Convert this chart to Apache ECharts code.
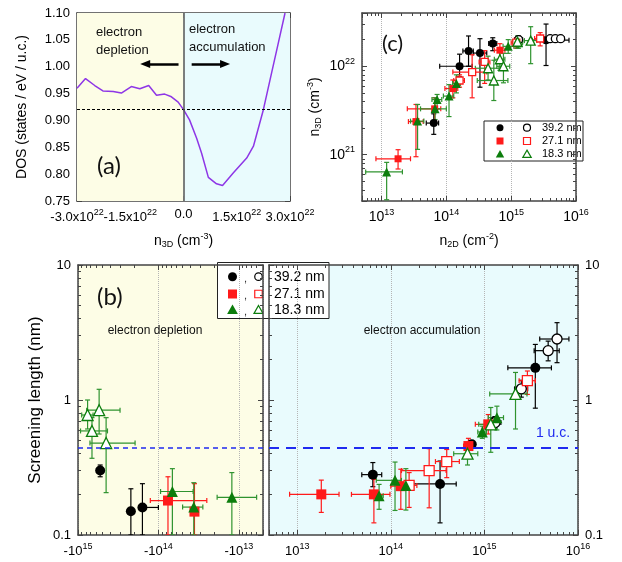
<!DOCTYPE html>
<html>
<head>
<meta charset="utf-8">
<script src="https://cdn.jsdelivr.net/npm/echarts@6.0.0/dist/echarts.min.js"></script>
<style>
html, body { margin: 0; padding: 0; background: #fff; }
#main { width: 622px; height: 562px; }
</style>
</head>
<body>
<div id="main"></div>
<script>
// ---- data ----
// (a) DOS versus n3D
var dosN = [-3.0e22, -2.76e22, -2.5e22, -2.27e22, -1.98e22, -1.75e22, -1.47e22, -1.23e22, -0.98e22, -0.76e22, -0.53e22, -0.34e22, -0.15e22, 0,
            0.17e22, 0.37e22, 0.51e22, 0.70e22, 0.93e22, 1.10e22, 1.40e22, 1.78e22, 1.97e22, 2.25e22, 2.48e22, 2.67e22, 2.86e22];
var dosVal = [0.960, 0.978, 0.965, 0.955, 0.954, 0.951, 0.963, 0.959, 0.965, 0.947, 0.949, 0.944, 0.934, 0.920,
              0.901, 0.867, 0.839, 0.794, 0.782, 0.779, 0.802, 0.830, 0.852, 0.920, 0.988, 1.044, 1.10];
var dosRef = 0.92;

// (c) rows: [n2D, n3D, n2D low, n2D high, n3D low, n3D high]
var cBlack = [[6.4e13, 2.28e21, 4.9e13, 7.6e13, 1.7e21, 2.9e21], [1.6e14, 1.0e22, 7.9e13, 2.5e14, 7.6e21, 1.37e22],
              [2.2e14, 1.49e22, 1.8e14, 2.6e14, 1.0e22, 2.2e22], [3.3e14, 1.41e22, 2.6e14, 4.2e14, 5.8e21, 2.05e22],
              [5.2e14, 1.81e22, 4.5e14, 6.0e14, 1.5e22, 2.1e22], [3.45e15, 1.97e22, 2.1e15, 7.8e15, 1.02e22, 3.0e22]];
var cBlackOpen = [[1.3e15, 2.0e22, 1.15e15, 1.5e15, 1.85e22, 2.2e22], [4.0e15, 2.05e22, 3.6e15, 4.4e15, 1.95e22, 2.15e22],
                  [4.8e15, 2.05e22, 4.3e15, 5.3e15, 1.95e22, 2.15e22], [5.8e15, 2.05e22, 5.2e15, 6.6e15, 1.95e22, 2.15e22]];
var cRed = [[1.8e13, 9.0e20, 8.2e12, 2.8e13, 6.9e20, 1.14e21], [3.4e13, 2.37e21, 2.6e13, 4.4e13, 9.5e20, 3.7e21],
            [6.6e13, 3.3e21, 2.5e13, 8.2e13, 2.4e21, 4.4e21], [1.26e14, 5.6e21, 9.5e13, 1.5e14, 4.4e21, 7.0e21],
            [6.7e14, 1.52e22, 5.5e14, 8.0e14, 1.2e22, 1.8e22]];
var cRedOpen = [[1.6e14, 6.9e21, 1.3e14, 1.9e14, 5.8e21, 8.0e21], [2.5e14, 8.6e21, 1.26e14, 4.2e14, 4.4e21, 1.35e22],
                [3.9e14, 1.12e22, 3.2e14, 4.7e14, 6.4e21, 1.5e22], [1.2e15, 1.85e22, 1.0e15, 1.4e15, 1.6e22, 2.1e22],
                [2.8e15, 2.06e22, 2.3e15, 3.3e15, 1.7e22, 2.4e22]];
var cGreen = [[1.2e13, 6.4e20, 5.7e12, 2.1e13, 3.1e20, 8.2e20], [3.6e13, 2.4e21, 2.8e13, 4.5e13, 1.15e21, 3.7e21],
              [6.7e13, 3.3e21, 4.0e13, 1.0e14, 2.5e21, 4.4e21], [7.2e13, 4.2e21, 6.0e13, 8.5e13, 3.3e21, 4.8e21],
              [1.1e14, 4.6e21, 9.0e13, 1.3e14, 2.7e21, 6.2e21], [1.43e14, 6.4e21, 1.25e14, 1.65e14, 5.0e21, 8.0e21],
              [9.0e14, 1.68e22, 7.5e14, 1.1e15, 1.4e22, 2.0e22], [1.3e15, 1.85e22, 1.1e15, 1.5e15, 1.6e22, 2.1e22]];
var cGreenOpen = [[4.4e14, 9.5e21, 2.8e14, 6.5e14, 7.0e21, 1.3e22], [5.4e14, 6.9e21, 3.0e14, 8.9e14, 4.1e21, 1.17e22],
                  [6.7e14, 1.2e22, 5.5e14, 8.0e14, 9.0e21, 1.6e22], [7.6e14, 1.0e22, 6.0e14, 9.5e14, 6.5e21, 1.4e22],
                  [1.25e15, 1.9e22, 1.05e15, 1.5e15, 1.6e22, 2.2e22], [2.0e15, 1.95e22, 1.6e15, 2.5e15, 1.07e22, 2.8e22]];

// (b) depletion side, x is |n2D|: [|n2D|, length, low, high, length low, length high]
var depBlack = [[5.3e14, 0.30, 4.9e14, 5.7e14, 0.27, 0.33], [2.2e14, 0.15, 2.2e14, 2.2e14, 0.10, 0.22],
                [1.58e14, 0.16, 1.0e14, 1.58e14, 0.10, 0.24]];
var depRed = [[7.6e13, 0.18, 2.5e13, 1.26e14, 0.10, 0.27], [3.56e13, 0.149, 3.56e13, 3.56e13, 0.10, 0.24]];
var depGreen = [[6.7e13, 0.21, 3.7e13, 9.4e13, 0.10, 0.31], [3.63e13, 0.161, 2.8e13, 5.0e13, 0.10, 0.244],
                [1.22e13, 0.19, 6.0e12, 1.86e13, 0.10, 0.29]];
var depGreenOpen = [[7.6e14, 0.774, 6.5e14, 9.0e14, 0.61, 1.0], [5.46e14, 0.84, 3.0e14, 7.8e14, 0.56, 1.2],
                    [6.7e14, 0.59, 4.3e14, 9.3e14, 0.37, 0.74], [4.47e14, 0.48, 1.95e14, 7.1e14, 0.206, 0.74]];
// (b) accumulation side
var accBlack = [[6.43e13, 0.28, 4.9e13, 8.0e13, 0.228, 0.344], [3.36e14, 0.239, 1.64e14, 5.0e14, 0.123, 0.353],
                [7.33e14, 0.47, 7.33e14, 7.33e14, 0.44, 0.50], [1.3e15, 0.70, 1.3e15, 1.3e15, 0.65, 0.75],
                [3.5e15, 1.73, 1.78e15, 5.2e15, 0.87, 2.58]];
var accBlackOpen = [[1.3e15, 0.68, 1.15e15, 1.5e15, 0.62, 0.75], [2.48e15, 1.21, 2.1e15, 2.9e15, 1.05, 1.4],
                    [4.8e15, 2.32, 3.4e15, 6.3e15, 1.95, 2.73], [5.97e15, 2.83, 3.9e15, 8.0e15, 1.89, 3.74]];
var accRed = [[1.81e13, 0.20, 8.3e12, 2.8e13, 0.147, 0.255], [6.6e13, 0.20, 3.8e13, 9.8e13, 0.123, 0.258],
              [1.28e14, 0.23, 1.0e14, 1.6e14, 0.155, 0.307], [6.75e14, 0.456, 6.0e14, 7.6e14, 0.40, 0.52],
              [1.1e15, 0.66, 8.0e14, 1.35e15, 0.56, 0.78]];
var accRedOpen = [[1.57e14, 0.233, 1.2e14, 1.9e14, 0.16, 0.29], [2.57e14, 0.30, 1.3e14, 3.9e14, 0.159, 0.436],
                  [3.96e14, 0.35, 3.0e14, 5.4e14, 0.266, 0.43], [2.88e15, 1.39, 2.35e15, 3.5e15, 1.1, 1.64]];
var accGreen = [[7.5e13, 0.195, 6.8e13, 8.3e13, 0.155, 0.237], [1.11e14, 0.254, 7.0e13, 1.3e14, 0.152, 0.347],
                [1.45e14, 0.233, 1.2e14, 1.75e14, 0.153, 0.31], [9.5e14, 0.58, 8.5e14, 1.05e15, 0.52, 0.64],
                [1.36e15, 0.74, 1.1e15, 1.6e15, 0.6, 0.9]];
var accGreenOpen = [[6.6e14, 0.40, 4.7e14, 8.5e14, 0.33, 0.46], [1.17e15, 0.66, 8.7e14, 1.4e15, 0.41, 0.88],
                    [2.15e15, 1.11, 1.14e15, 2.85e15, 0.61, 1.6]];
var ucLength = 0.44;
var thickness = ['39.2 nm', '27.1 nm', '18.3 nm'];

// ---- style ----
var font = 'Liberation Sans, Arial, sans-serif';
var frame = '#444';
var purple = '#8e36e6';
var red = '#ff1a1a';
var green = '#0c7d0c';
var greenBar = '#2f932f';
var yellowBg = '#fdfde6';
var cyanBg = '#e9fbfd';
var rich = {
    e: { fontSize: 9, fontFamily: font, padding: [0, 0, 10, 0] },
    s: { fontSize: 9, fontFamily: font, padding: [6, 0, 0, 0] }
};

function decadeLabel(neg) {
    return function (v) {
        var l = Math.log10(v), e = Math.round(l);
        if (Math.abs(l - e) > 1e-6) return '';
        return (neg ? '-' : '') + '10{e|' + e + '}';
    };
}
function plainDecade(v) {
    var l = Math.log10(v), e = Math.round(l);
    if (Math.abs(l - e) > 1e-6) return '';
    return e < 0 ? '0.1' : String(Math.pow(10, e));
}

// one side of a panel frame
function side(o) {
    return {
        gridIndex: o.grid, type: o.type || 'value', position: o.pos,
        min: o.min, max: o.max, interval: o.interval, inverse: !!o.inverse, logBase: 10,
        name: o.name || '', nameLocation: 'middle', nameGap: o.nameGap, nameRotate: o.nameRotate,
        nameTextStyle: { fontSize: o.nameSize || 14, fontFamily: font, color: '#000', rich: rich },
        axisLine: { show: true, onZero: false, lineStyle: { color: frame, width: 1.5 } },
        axisTick: { show: true, inside: true, length: 5, lineStyle: { color: frame } },
        minorTick: { show: true, splitNumber: o.minor || 2, length: 3, lineStyle: { color: frame } },
        axisLabel: { show: !!o.fmt, formatter: o.fmt, fontSize: o.labelSize || 13, fontFamily: font, color: '#000',
                     margin: 7, rich: rich, showMinLabel: true, showMaxLabel: true, hideOverlap: false },
        splitLine: { show: !!o.split, lineStyle: { color: '#b5b5b5', type: 'dotted', width: 1 } }
    };
}

function bars(rows, xi, yi, color) {
    return {
        type: 'custom', xAxisIndex: xi, yAxisIndex: yi, data: rows, clip: true, silent: true, z: 2,
        encode: { x: 0, y: 1 },
        renderItem: function (params, api) {
            var p = api.coord([api.value(0), api.value(1)]);
            var x1 = api.coord([api.value(2), api.value(1)])[0];
            var x2 = api.coord([api.value(3), api.value(1)])[0];
            var y1 = api.coord([api.value(0), api.value(4)])[1];
            var y2 = api.coord([api.value(0), api.value(5)])[1];
            var st = { stroke: color, lineWidth: 1.2 }, k = 2.5, kids = [];
            function seg(a, b, c, d) { kids.push({ type: 'line', shape: { x1: a, y1: b, x2: c, y2: d }, style: st }); }
            if (Math.abs(x2 - x1) > 1) { seg(x1, p[1], x2, p[1]); seg(x1, p[1] - k, x1, p[1] + k); seg(x2, p[1] - k, x2, p[1] + k); }
            if (Math.abs(y2 - y1) > 1) { seg(p[0], y1, p[0], y2); seg(p[0] - k, y1, p[0] + k, y1); seg(p[0] - k, y2, p[0] + k, y2); }
            return { type: 'group', children: kids };
        }
    };
}
function marks(rows, xi, yi, sym, size, color, open) {
    return {
        type: 'scatter', xAxisIndex: xi, yAxisIndex: yi, data: rows, encode: { x: 0, y: 1 },
        symbol: sym, symbolSize: size, silent: true, z: 3,
        itemStyle: open ? { color: '#fff', borderColor: color, borderWidth: 1.3, opacity: 1 } : { color: color, opacity: 1 }
    };
}
function group(sets, xi, yi, sz) {
    // sets: [rows, symbol, color, barColor, open]
    var out = [];
    sets.forEach(function (s) { out.push(bars(s[0], xi, yi, s[3])); });
    sets.forEach(function (s) { out.push(marks(s[0], xi, yi, s[1], sz[s[1]], s[2], s[4])); });
    return out;
}

var myChart = echarts.init(document.getElementById('main'));

var series = [];
// (a)
series.push({
    type: 'line', xAxisIndex: 0, yAxisIndex: 0, silent: true, z: 3,
    data: dosN.map(function (n, i) { return [n, dosVal[i]]; }),
    showSymbol: false, lineStyle: { color: purple, width: 1.5 },
    markArea: {
        silent: true,
        data: [[{ xAxis: -3e22, itemStyle: { color: yellowBg } }, { xAxis: 0 }],
               [{ xAxis: 0, itemStyle: { color: cyanBg } }, { xAxis: 3e22 }]]
    },
    markLine: {
        silent: true, symbol: ['none', 'none'], label: { show: false }, animation: false,
        data: [
            { yAxis: dosRef, lineStyle: { color: '#000', type: [3, 2], width: 1 } },
            { xAxis: 0, lineStyle: { color: '#555', type: 'solid', width: 1.5 } },
            [{ coord: [-0.14e22, 1.005], symbol: 'none', lineStyle: { color: '#000', type: 'solid', width: 2.5 } },
             { coord: [-1.08e22, 1.005], symbol: 'triangle', symbolSize: [8, 10] }],
            [{ coord: [0.23e22, 1.005], symbol: 'none', lineStyle: { color: '#000', type: 'solid', width: 2.5 } },
             { coord: [1.17e22, 1.005], symbol: 'triangle', symbolSize: [8, 10] }]
        ]
    }
});

// (c)
var szC = { circle: 8, rect: 7, triangle: 9 };
series = series.concat(group([
    [cBlack, 'circle', '#000', '#000', false],
    [cBlackOpen, 'circle', '#000', '#000', true],
    [cRed, 'rect', red, red, false],
    [cRedOpen, 'rect', red, red, true],
    [cGreen, 'triangle', green, greenBar, false],
    [cGreenOpen, 'triangle', green, greenBar, true]
], 2, 2, szC));

// (b) depletion
var szB = { circle: 10, rect: 10, triangle: 11 };
var dep = group([
    [depBlack, 'circle', '#000', '#000', false],
    [depRed, 'rect', red, red, false],
    [depGreen, 'triangle', green, greenBar, false],
    [depGreenOpen, 'triangle', green, greenBar, true]
], 4, 4, szB);
dep[0].markLine = { silent: true, symbol: ['none', 'none'], label: { show: false }, animation: false,
    data: [{ yAxis: ucLength, lineStyle: { color: '#1f2af0', type: [5, 4], width: 1.5 } }] };
series = series.concat(dep);

// (b) accumulation
var acc = group([
    [accBlack, 'circle', '#000', '#000', false],
    [accBlackOpen, 'circle', '#000', '#000', true],
    [accRed, 'rect', red, red, false],
    [accRedOpen, 'rect', red, red, true],
    [accGreen, 'triangle', green, greenBar, false],
    [accGreenOpen, 'triangle', green, greenBar, true]
], 6, 7, szB);
acc[0].markLine = { silent: true, symbol: ['none', 'none'], label: { show: false }, animation: false,
    data: [{ yAxis: ucLength, lineStyle: { color: '#1f2af0', type: [10, 7], width: 2 } }] };
series = series.concat(acc);

function aLabel(v) {
    if (Math.abs(v) < 1) return '0.0';
    return (v < 0 ? '-' : '') + (Math.abs(v) / 1e22).toFixed(1) + 'x10{e|22}';
}

// legend box drawn as graphic
function legendBox(box, rows, szFill, szOpen, fs, xs, withComma) {
    var kids = [{ type: 'rect', shape: { x: box[0], y: box[1], width: box[2], height: box[3] }, style: { fill: '#fff', stroke: '#222', lineWidth: 1 } }];
    var cols = ['#000', red, green];
    thickness.forEach(function (t, i) {
        var cy = rows[i];
        [0, 1].forEach(function (k) {
            var cx = xs[k], sz = k ? szOpen : szFill;
            var st = { fill: k ? '#fff' : cols[i], stroke: cols[i], lineWidth: k ? 1.2 : 0 };
            if (i === 0) kids.push({ type: 'circle', shape: { cx: cx, cy: cy, r: sz / 2 }, style: st });
            if (i === 1) kids.push({ type: 'rect', shape: { x: cx - sz / 2, y: cy - sz / 2, width: sz, height: sz }, style: st });
            if (i === 2) kids.push({ type: 'polygon', shape: { points: [[cx, cy - sz * 0.6], [cx + sz * 0.6, cy + sz * 0.45], [cx - sz * 0.6, cy + sz * 0.45]] }, style: st });
        });
        if (withComma) kids.push({ type: 'text', style: { text: ',', x: (xs[0] + xs[1]) / 2, y: cy + 2, font: '11px ' + font, fill: '#333', textAlign: 'center', textVerticalAlign: 'middle' } });
        kids.push({ type: 'text', style: { text: t, x: xs[2], y: cy, font: fs + 'px ' + font, fill: '#000', textVerticalAlign: 'middle' } });
    });
    return { type: 'group', z: 100, children: kids };
}
function txt(s, x, y, size, opt) {
    opt = opt || {};
    return { type: 'text', z: 50, style: { text: s, x: x, y: y, font: size + 'px ' + (opt.family || font), fill: opt.color || '#111',
        textAlign: opt.align || 'left', textVerticalAlign: 'middle', lineHeight: opt.lh } };
}

var option = {
    backgroundColor: '#fff',
    animation: false,
    grid: [
        { left: 77, top: 13, width: 213, height: 188, outerBoundsMode: 'none', containLabel: false },
        { left: 362, top: 13, width: 214, height: 188, outerBoundsMode: 'none', containLabel: false },
        { left: 78, top: 265, width: 185, height: 270, outerBoundsMode: 'none', containLabel: false, show: true, backgroundColor: yellowBg, borderWidth: 0 },
        { left: 269, top: 265, width: 309, height: 270, outerBoundsMode: 'none', containLabel: false, show: true, backgroundColor: cyanBg, borderWidth: 0 }
    ],
    xAxis: [
        side({ grid: 0, pos: 'bottom', min: -3e22, max: 3e22, interval: 1.5e22, fmt: aLabel, name: 'n{s|3D} (cm{e|-3})', nameGap: 31 }),
        side({ grid: 0, pos: 'top', min: -3e22, max: 3e22, interval: 1.5e22 }),
        side({ grid: 1, pos: 'bottom', type: 'log', min: 5e12, max: 1e16, minor: 9, split: true, fmt: decadeLabel(false), labelSize: 14,
               name: 'n{s|2D} (cm{e|-2})', nameGap: 31 }),
        side({ grid: 1, pos: 'top', type: 'log', min: 5e12, max: 1e16, minor: 9 }),
        side({ grid: 2, pos: 'bottom', type: 'log', min: 5e12, max: 1e15, inverse: true, minor: 9, split: true, fmt: decadeLabel(true) }),
        side({ grid: 2, pos: 'top', type: 'log', min: 5e12, max: 1e15, inverse: true, minor: 9 }),
        side({ grid: 3, pos: 'bottom', type: 'log', min: 5e12, max: 1e16, minor: 9, split: true, fmt: decadeLabel(false) }),
        side({ grid: 3, pos: 'top', type: 'log', min: 5e12, max: 1e16, minor: 9 })
    ],
    yAxis: [
        side({ grid: 0, pos: 'left', min: 0.75, max: 1.10, interval: 0.05, fmt: function (v) { return v.toFixed(2); },
               name: 'DOS (states / eV / u.c.)', nameGap: 48, nameRotate: 90 }),
        side({ grid: 0, pos: 'right', min: 0.75, max: 1.10, interval: 0.05 }),
        side({ grid: 1, pos: 'left', type: 'log', min: 3e20, max: 4e22, minor: 9, fmt: decadeLabel(false), labelSize: 14,
               name: 'n{s|3D} (cm{e|-3})', nameGap: 37, nameRotate: 90 }),
        side({ grid: 1, pos: 'right', type: 'log', min: 3e20, max: 4e22, minor: 9 }),
        side({ grid: 2, pos: 'left', type: 'log', min: 0.1, max: 10, minor: 9, fmt: plainDecade,
               name: 'Screening length (nm)', nameGap: 34, nameRotate: 90, nameSize: 17 }),
        side({ grid: 2, pos: 'right', type: 'log', min: 0.1, max: 10, minor: 9 }),
        side({ grid: 3, pos: 'left', type: 'log', min: 0.1, max: 10, minor: 9 }),
        side({ grid: 3, pos: 'right', type: 'log', min: 0.1, max: 10, minor: 9, fmt: plainDecade })
    ],
    graphic: [
        txt('electron\ndepletion', 96, 41, 13, { lh: 18 }),
        txt('electron\naccumulation', 189, 38, 13, { lh: 18 }),
        txt('(a)', 97, 166, 24, { family: 'Lato, Open Sans, sans-serif' }),
        txt('(c)', 382, 44, 22, { family: 'Lato, Open Sans, sans-serif' }),
        txt('(b)', 97, 297, 24, { family: 'Lato, Open Sans, sans-serif' }),
        txt('electron depletion', 155, 331, 12, { align: 'center' }),
        txt('electron accumulation', 422, 331, 12, { align: 'center' }),
        txt('1 u.c.', 553, 433, 14, { align: 'center', color: '#1f2af0' }),
        legendBox([484, 121, 99, 40], [127.7, 141, 154.3], 7, 7, 11, [500, 527, 542], false),
        legendBox([217.5, 262.5, 111.5, 56], [276.7, 294, 310], 9, 7.5, 14, [232.5, 258.5, 274], true)
    ],
    series: series
};

myChart.setOption(option);
</script>
</body>
</html>
